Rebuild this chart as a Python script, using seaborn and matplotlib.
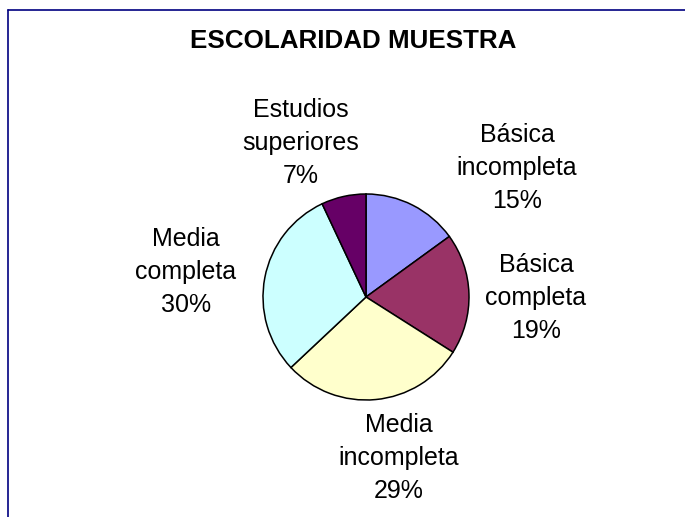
import matplotlib
matplotlib.use("Agg")
import matplotlib.pyplot as plt
import seaborn as sns
from matplotlib.lines import Line2D

# data
categories = ["Básica\nincompleta", "Básica\ncompleta", "Media\nincompleta",
              "Media\ncompleta", "Estudios\nsuperiores"]
percentages = [15, 19, 29, 30, 7]
slice_colors = ["#9999FF", "#993366", "#FFFFCC", "#CCFFFF", "#660066"]
title = "ESCOLARIDAD MUESTRA"

# label placement (in pie-radius units, relative to the centre)
label_pos = [(1.466, 1.252), (1.650, -0.01), (0.32, -1.563),
             (-1.748, 0.243), (-0.631, 1.495)]

sns.set_theme(style="white")
plt.rcParams['font.family'] = ['Liberation Sans', 'DejaVu Sans']
plt.rcParams['text.color'] = 'black'

W, H = 685, 517
cx, cy, r = 366, 297, 103

fig = plt.figure(figsize=(W / 100, H / 100), dpi=100)
ax = fig.add_axes([0, 0, 1, 1])

ax.pie(percentages, colors=slice_colors, startangle=90, counterclock=False,
       radius=1, wedgeprops=dict(edgecolor="black", linewidth=1.1))

for name, pct, (lx, ly) in zip(categories, percentages, label_pos):
    ax.text(lx, ly, f"{name}\n{pct}%", ha="center", va="center",
            fontsize=18, linespacing=1.45, color="black")

ax.set_xlim(-cx / r, (W - cx) / r)
ax.set_ylim((cy - H) / r, cy / r)
ax.set_aspect("auto")
ax.axis("off")

fig.text(353 / W, 1 - 41.5 / H, title, ha="center", va="center",
         fontsize=18.7, fontweight="bold", color="black")

# blue chart frame (only left and top edges are visible)
fig.add_artist(Line2D([8 / W, 8 / W], [0, 1 - 10 / H], transform=fig.transFigure,
                      color="#000080", lw=1.2))
fig.add_artist(Line2D([8 / W, 1], [1 - 10 / H, 1 - 10 / H], transform=fig.transFigure,
                      color="#000080", lw=1.2))

fig.savefig("out.png", dpi=100, facecolor="white")
plt.close(fig)
